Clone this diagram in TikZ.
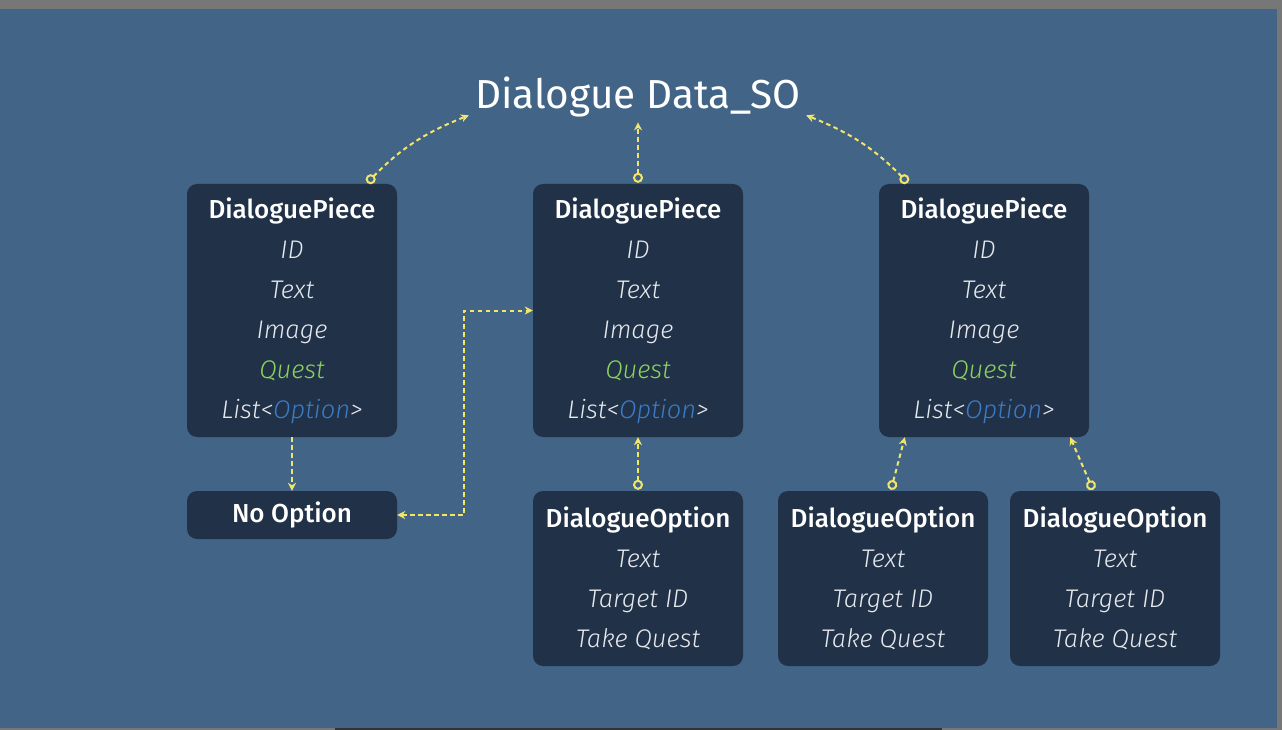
\documentclass[tikz,border=0pt]{standalone}
\usepackage{fontspec}
\setmainfont{Fira Sans}
\newfontfamily\headfont{Fira Sans Medium}
\newfontfamily\fieldfont{Fira Sans Light Italic}
\usetikzlibrary{arrows.meta}

\definecolor{bgblue}{HTML}{426487}
\definecolor{boxnavy}{HTML}{213147}
\definecolor{linkyellow}{HTML}{F2E66A}
\definecolor{questgreen}{HTML}{8BD35E}
\definecolor{optblue}{HTML}{3C7BC4}
\definecolor{fieldgray}{HTML}{E6E9EE}
\definecolor{framegray}{HTML}{777777}

\newcommand\fld[1]{{\fieldfont\color{fieldgray}#1}}
\newcommand\hd[1]{{\headfont\fontsize{26}{40}\selectfont #1}}

\begin{document}
\begin{tikzpicture}[x=1pt, y=-1pt,
		box/.style={fill=boxnavy, rounded corners=10pt, minimum width=210pt, inner sep=0pt,
			text=white, align=center, font=\fontsize{25.5}{40}\selectfont},
		piece/.style={box, minimum height=253pt},
		option/.style={box, minimum height=175pt},
		link/.style={draw=linkyellow, line width=2pt, dash pattern=on 4.5pt off 3.5pt},
		tip/.style={-{Stealth[length=8pt, width=8pt, inset=2.5pt]}},
		ringtip/.style={{Circle[open, length=10pt, width=10pt]}-{Stealth[length=8pt, width=8pt, inset=2.5pt]}}]

	% Background and window frame
	\fill[bgblue] (0,0) rectangle (1282,730);
	\fill[framegray] (0,0) rectangle (1282,9);
	\fill[framegray] (1277,0) rectangle (1282,730);
	\fill[framegray] (0,728) rectangle (1282,730);
	\fill[black!80] (335,728) rectangle (942,730);

	% Title
	\node[text=white, font=\fontsize{40.5}{42}\selectfont, inner sep=0pt] (title) at (638,97) {Dialogue Data\_SO};

	% Dialogue pieces
	\node[piece] (pieceA) at (292,310.5) {\hd{DialoguePiece}\\ \fld{ID}\\ \fld{Text}\\ \fld{Image}\\
		{\fieldfont\color{questgreen}Quest}\\ \fld{List<}{\fieldfont\color{optblue}Option}\fld{>}};
	\node[piece] (pieceB) at (638,310.5) {\hd{DialoguePiece}\\ \fld{ID}\\ \fld{Text}\\ \fld{Image}\\
		{\fieldfont\color{questgreen}Quest}\\ \fld{List<}{\fieldfont\color{optblue}Option}\fld{>}};
	\node[piece] (pieceC) at (984,310.5) {\hd{DialoguePiece}\\ \fld{ID}\\ \fld{Text}\\ \fld{Image}\\
		{\fieldfont\color{questgreen}Quest}\\ \fld{List<}{\fieldfont\color{optblue}Option}\fld{>}};

	% No option
	\node[box, minimum height=48pt] (noopt) at (292,515) {\hd{No Option}};

	% Dialogue options
	\node[option] (optA) at (638,578.5) {\hd{DialogueOption}\\ \fld{Text}\\ \fld{Target ID}\\ \fld{Take Quest}};
	\node[option] (optB) at (883,578.5) {\hd{DialogueOption}\\ \fld{Text}\\ \fld{Target ID}\\ \fld{Take Quest}};
	\node[option] (optC) at (1115,578.5) {\hd{DialogueOption}\\ \fld{Text}\\ \fld{Target ID}\\ \fld{Take Quest}};

	% Links to the title
	\draw[link, ringtip] ([xshift=-30pt,yshift=1pt]pieceA.north east) to[bend left=12] ([xshift=-6pt,yshift=2pt]title.south west);
	\draw[link, ringtip] ([yshift=1pt]pieceB.north) -- ([yshift=-5pt]title.south);
	\draw[link, ringtip] ([xshift=29pt,yshift=1pt]pieceC.north west) to[bend right=12] ([xshift=5pt,yshift=2pt]title.south east);

	% Links between boxes
	\draw[link, tip] (pieceA.south) -- (noopt.north);
	\draw[link, {Stealth[length=8pt, width=8pt, inset=2.5pt]}-{Stealth[length=8pt, width=8pt, inset=2.5pt]}]
		(noopt.east) -- ++(67,0) |- (pieceB.west);
	\draw[link, ringtip] ([yshift=1pt]optA.north) -- (pieceB.south);
	\draw[link, ringtip] ([xshift=8pt,yshift=1pt]optB.north) -- ([xshift=26pt]pieceC.south west);
	\draw[link, ringtip] ([xshift=-22pt,yshift=1pt]optC.north) -- ([xshift=-19pt]pieceC.south east);

\end{tikzpicture}
\end{document}
